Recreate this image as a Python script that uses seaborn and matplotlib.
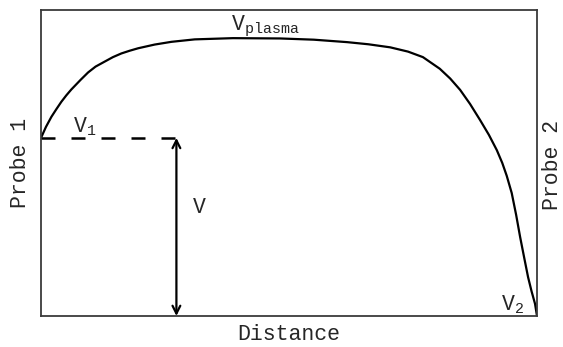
import matplotlib
matplotlib.use("Agg")
import matplotlib.pyplot as plt
import seaborn as sns
import pandas as pd

# Potential profile between the two probes (distance and potential in arbitrary units)
distance = [0.0, 1.0, 2.1, 3.1, 4.1, 5.1, 6.1, 8.0, 9.5, 11.0, 12.8, 14.5, 16.2,
            17.9, 19.6, 22.9, 26.3, 31.0, 38.7, 48.2, 55.0, 61.7, 66.0, 70.4,
            74.0, 77.0, 80.4, 82.5, 84.5, 86.5, 88.5, 90.3, 91.9, 93.0, 93.9,
            94.9, 95.8, 96.6, 97.4, 98.2, 98.9, 99.6, 100.0]
potential = [58.2, 61.8, 65.1, 67.6, 70.0, 72.1, 74.0, 77.2, 79.6, 81.5, 83.1, 84.6,
             85.8, 86.7, 87.5, 88.7, 89.6, 90.4, 90.8, 90.7, 90.3, 89.5, 88.8,
             87.8, 86.4, 84.6, 80.8, 77.6, 73.9, 69.3, 64.1, 59.2, 54.2, 50.0,
             45.8, 40.2, 33.0, 25.8, 19.2, 12.7, 8.1, 4.0, 0.0]

v1_level = 58.2          # potential at probe 1
v_marker_x = 27.3        # where the potential difference V is marked
v2_level = 0.0           # potential at probe 2

sns.set_theme(style="white")
plt.rcParams["font.family"] = ["Liberation Mono", "DejaVu Sans"]
plt.rcParams["mathtext.fontset"] = "custom"
plt.rcParams["mathtext.rm"] = "Liberation Mono"
plt.rcParams["mathtext.it"] = "Liberation Mono"
plt.rcParams["mathtext.default"] = "regular"

fig = plt.figure(figsize=(5.63, 3.47), dpi=100)
ax = fig.add_axes([41 / 563, 31 / 347, 496 / 563, 306 / 347])

df = pd.DataFrame({"distance": distance, "potential": potential})
sns.lineplot(data=df, x="distance", y="potential", ax=ax, color="black",
             linewidth=1.6, sort=False, estimator=None,
             solid_joinstyle="round", solid_capstyle="round")

# dashed level of V1 up to the V marker
ax.plot([distance[0], v_marker_x], [v1_level, v1_level], color="black",
        linewidth=1.8, dashes=(5.6, 6.4))

# double arrow marking V
ax.annotate("", xy=(v_marker_x, v2_level), xytext=(v_marker_x, v1_level),
            arrowprops=dict(arrowstyle="<->", color="black", lw=1.6,
                            mutation_scale=14, shrinkA=0, shrinkB=0))

fs = 15.5
ax.text(6.4, 62.0, r"$V_1$", fontsize=fs, ha="left", va="center")
ax.text(30.6, 35.6, "V", fontsize=fs, ha="left", va="center")
ax.text(38.4, 94.6, r"$V_{plasma}$", fontsize=fs, ha="left", va="center")
ax.text(97.4, 3.6, r"$V_2$", fontsize=fs, ha="right", va="center")

ax.set_xlim(0, 100)
ax.set_ylim(0, 100)
ax.set_xticks([])
ax.set_yticks([])
ax.set_xlabel("Distance", fontsize=fs, labelpad=6)
ax.set_ylabel("Probe 1", fontsize=fs, labelpad=7)
for s in ax.spines.values():
    s.set_color("#3a3a3a")
    s.set_linewidth(1.3)
    s.set_visible(True)

fig.text(1.0, 1 - 165 / 347, "Probe 2", fontsize=fs, rotation=90,
         ha="right", va="center")

fig.savefig("out.png", dpi=100, facecolor="white")
